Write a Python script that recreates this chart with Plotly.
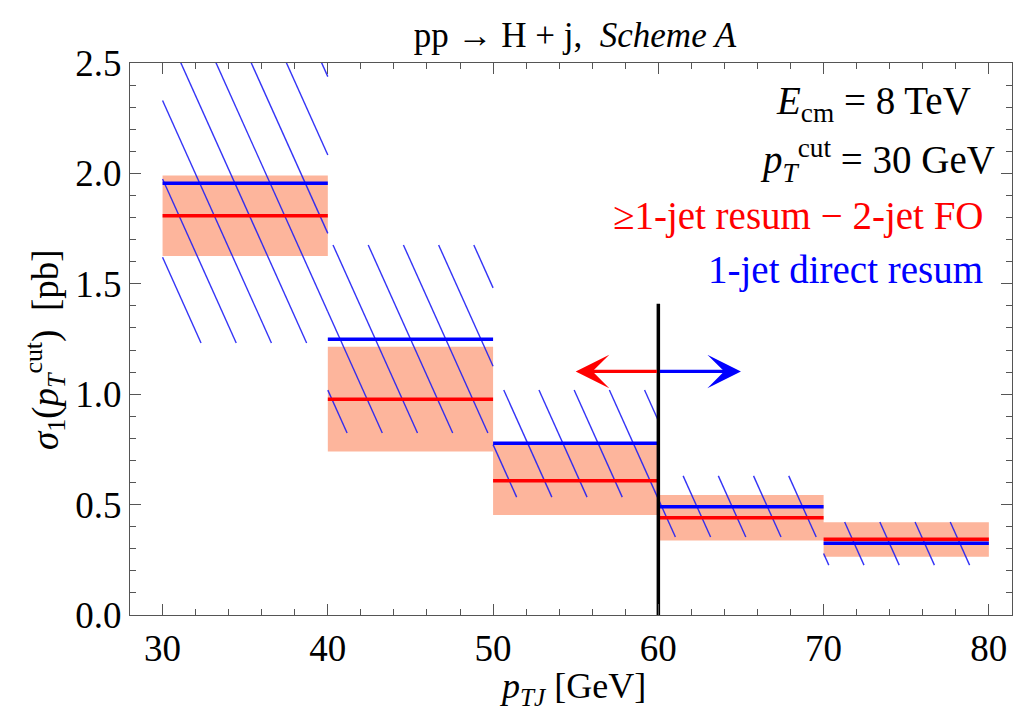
import math
import plotly.graph_objects as go

# ---------------- data ----------------
bin_edges = [30, 40, 50, 60, 70, 80]
red_central = [1.808, 0.977, 0.608, 0.441, 0.343]
red_low = [1.626, 0.740, 0.453, 0.337, 0.264]
red_high = [1.990, 1.215, 0.770, 0.543, 0.420]
blue_central = [1.955, 1.249, 0.778, 0.490, 0.325]
blue_low = [1.232, 0.824, 0.534, 0.353, 0.226]
blue_high = [2.800, 1.676, 1.019, 0.630, 0.421]
cut_x = 60
cut_line_top = 1.41
arrow_y = 1.103
arrow_len = 5
x_ticks = [30, 40, 50, 60, 70, 80]
y_ticks = [0.0, 0.5, 1.0, 1.5, 2.0, 2.5]

# ---------------- styles ----------------
FONT = "Liberation Serif, Times New Roman, serif"
RED = "rgb(255,0,0)"
BLUE = "rgb(0,0,255)"
BAND = "rgb(253,181,156)"
HATCH = "rgba(30,30,245,0.9)"
AXC = "#555555"

# hatch pattern parameters (style): x + S*y = C0 + D*n
S = 6.0
D = 2.13
C0 = 1.38

fig = go.Figure()

# red bands
bx, by = [], []
for i in range(len(red_central)):
    x0, x1 = bin_edges[i], bin_edges[i + 1]
    bx += [x0, x1, x1, x0, x0, None]
    by += [red_low[i], red_low[i], red_high[i], red_high[i], red_low[i], None]
fig.add_trace(go.Scatter(x=bx, y=by, fill="toself", fillcolor=BAND, mode="lines",
                         line=dict(width=0, color=BAND), hoverinfo="skip", showlegend=False))

# blue hatching
hx, hy = [], []
for i in range(len(blue_central)):
    x0, x1 = bin_edges[i], bin_edges[i + 1]
    y0, y1 = blue_low[i], blue_high[i]
    cmin = x0 + S * y0
    cmax = x1 + S * y1
    n0 = math.ceil((cmin - C0) / D)
    n1 = math.floor((cmax - C0) / D)
    for n in range(n0, n1 + 1):
        c = C0 + D * n
        ya = max(y0, (c - x1) / S)
        yb = min(y1, (c - x0) / S)
        if yb - ya > 0.04:
            hx += [c - S * ya, c - S * yb, None]
            hy += [ya, yb, None]
fig.add_trace(go.Scatter(x=hx, y=hy, mode="lines", line=dict(width=1.4, color=HATCH),
                         hoverinfo="skip", showlegend=False))

# central lines
def steps(vals):
    xs, ys = [], []
    for i, v in enumerate(vals):
        xs += [bin_edges[i], bin_edges[i + 1], None]
        ys += [v, v, None]
    return xs, ys

rx, ry = steps(red_central)
fig.add_trace(go.Scatter(x=rx, y=ry, mode="lines", line=dict(width=3.5, color=RED),
                         hoverinfo="skip", showlegend=False))
blx, bly = steps(blue_central)
fig.add_trace(go.Scatter(x=blx, y=bly, mode="lines", line=dict(width=3.5, color=BLUE),
                         hoverinfo="skip", showlegend=False))

# vertical cut line
fig.add_trace(go.Scatter(x=[cut_x, cut_x], y=[0, cut_line_top], mode="lines",
                         line=dict(width=3.5, color="black"), hoverinfo="skip", showlegend=False))

# arrows
for col, sign in [(RED, -1), (BLUE, 1)]:
    fig.add_annotation(x=cut_x + sign * arrow_len, y=arrow_y, ax=cut_x, ay=arrow_y,
                       xref="x", yref="y", axref="x", ayref="y", text="",
                       showarrow=True, arrowhead=3, arrowsize=1.75, arrowwidth=3.2,
                       arrowcolor=col)

# texts
txt = [
    ("<i>E</i><sub>cm</sub> = 8 TeV", 973, 103, "black"),
    ("<i>p</i><sub><i>T</i></sub><sup>cut</sup> = 30 GeV", 997, 160, "black"),
    ("≥1-jet resum − 2-jet FO", 986, 216, RED),
    ("1-jet direct resum", 985, 270, BLUE),
]
L, R, T, B = 130, 1012, 63, 615
for t, xr, yc, col in txt:
    fig.add_annotation(text=t, x=(xr - L) / (R - L), y=(B - yc) / (B - T), xref="paper", yref="paper",
                       xanchor="right", yanchor="middle", showarrow=False,
                       font=dict(family=FONT, size=39, color=col))

# axis titles as annotations
fig.add_annotation(text="<i>σ</i><sub>1</sub>(<i>p</i><sub><i>T</i></sub><sup>cut</sup>)  [pb]",
                   x=(45 - L) / (R - L), y=(B - 350) / (B - T), xref="paper", yref="paper",
                   textangle=-90, showarrow=False, xanchor="center", yanchor="middle",
                   font=dict(family=FONT, size=37, color="black"))
fig.add_annotation(text="<i>p</i><sub><i>TJ</i></sub> [GeV]",
                   x=(572 - L) / (R - L), y=(B - 688) / (B - T), xref="paper", yref="paper",
                   showarrow=False, xanchor="center", yanchor="middle",
                   font=dict(family=FONT, size=36, color="black"))

axis_common = dict(showgrid=False, zeroline=False, showline=True, linecolor=AXC, linewidth=1.3,
                   ticks="inside", ticklen=11, tickwidth=1.3, tickcolor=AXC, mirror="allticks",
                   tickfont=dict(family=FONT, size=37, color="black"))

fig.update_layout(
    width=1017, height=712,
    margin=dict(l=L, r=1017 - R, t=T, b=712 - B),
    paper_bgcolor="white", plot_bgcolor="white",
    title=dict(text="pp → H + j,  <i>Scheme A</i>", x=(575) / 1017, xanchor="center",
               y=1 - 35 / 712, yanchor="middle", font=dict(family=FONT, size=35, color="black")),
    xaxis=dict(range=[28.03, 81.4], tickvals=x_ticks, ticktext=[str(v) for v in x_ticks],
               minor=dict(dtick=2, ticks="inside", ticklen=6, tickcolor=AXC, tickwidth=1.1),
               **axis_common),
    yaxis=dict(range=[0, 2.5], tickvals=y_ticks, ticktext=[f"{v:.1f}" for v in y_ticks],
               minor=dict(dtick=0.1, ticks="inside", ticklen=6, tickcolor=AXC, tickwidth=1.1),
               **axis_common),
)

fig.write_html("out.html")
